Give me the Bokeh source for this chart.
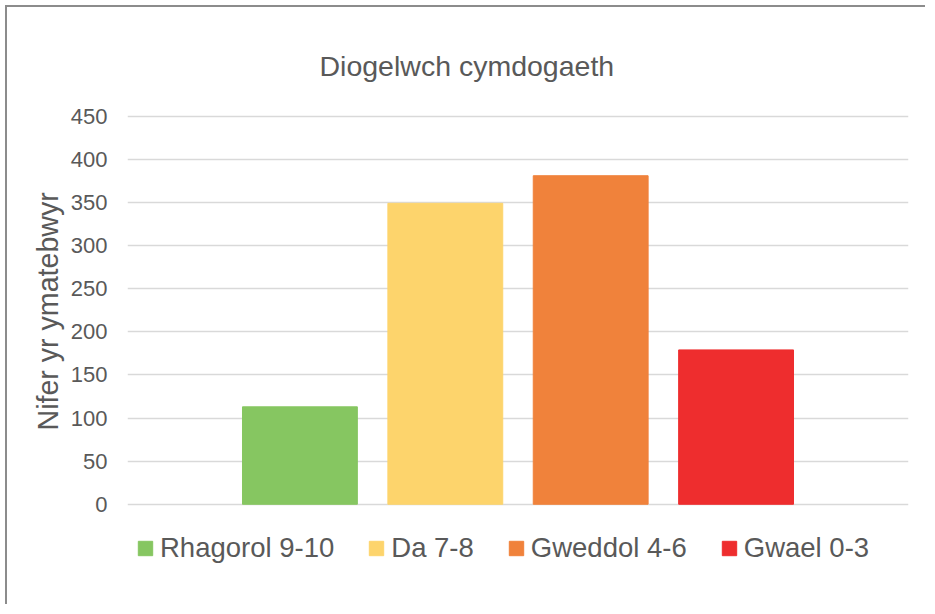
from bokeh.plotting import figure
from bokeh.models import (ColumnDataSource, FactorRange, Range1d, Legend, LegendItem,
                          FixedTicker, Title)
from bokeh.embed import file_html
from bokeh.resources import INLINE

categories = ["Rhagorol 9-10", "Da 7-8", "Gweddol 4-6", "Gwael 0-3"]
values = [113, 349, 381, 179]
colors = ["#86C661", "#FDD46C", "#F0823B", "#EE2D2E"]
y_ticks = [0, 50, 100, 150, 200, 250, 300, 350, 400, 450]
title_text = "Diogelwch cymdogaeth"
y_label = "Nifer yr ymatebwyr"

src = ColumnDataSource(dict(cat=categories, val=values, col=colors))

FONT = "Liberation Sans"
TXT = "#595959"

# the frame reaches below zero so that the legend can sit inside it
p = figure(width=920, height=599, output_backend="svg", toolbar_location=None,
           x_range=FactorRange(*categories, range_padding=0.343),
           y_range=Range1d(-100, 452),
           min_border_left=120, min_border_top=107, min_border_right=19, min_border_bottom=16)
p.styles = {"border-left": "2px solid #8c8c8c", "border-top": "2px solid #8c8c8c",
            "margin-left": "5px", "margin-top": "5px"}

r = p.vbar(x="cat", top="val", width=0.79, color="col", line_color="col", source=src)

p.title.text = title_text
p.title.align = "left"
p.title.offset = 192
p.title.text_font = FONT
p.title.text_font_size = "28.5px"
p.title.text_font_style = "normal"
p.title.text_color = TXT
p.title.standoff = 65

p.xaxis.visible = False
p.xgrid.visible = False

p.ygrid.grid_line_color = "#d9d9d9"
p.ygrid.grid_line_width = 1.5
p.yaxis.ticker = FixedTicker(ticks=y_ticks)
p.yaxis.axis_line_color = None
p.yaxis.major_tick_line_color = None
p.yaxis.minor_tick_line_color = None
p.yaxis.major_label_text_font = FONT
p.yaxis.major_label_text_font_size = "22px"
p.yaxis.major_label_text_color = TXT
p.yaxis.major_label_standoff = 14
p.outline_line_color = None

ylab = Title(text=y_label, align="left", offset=160, standoff=8,
             text_font=FONT, text_font_size="28.6px", text_font_style="normal",
             text_color=TXT)
p.add_layout(ylab, "left")

items = [LegendItem(label=c, renderers=[r], index=i) for i, c in enumerate(categories)]
legend = Legend(items=items, orientation="horizontal", location=(9, 26),
                glyph_width=18, glyph_height=18, label_standoff=6, spacing=33,
                padding=0, margin=0, border_line_color=None, background_fill_alpha=0,
                label_text_font=FONT, label_text_font_size="27.5px", label_text_color=TXT)
p.add_layout(legend, "center")

open("out.html", "w").write(file_html(p, INLINE))
